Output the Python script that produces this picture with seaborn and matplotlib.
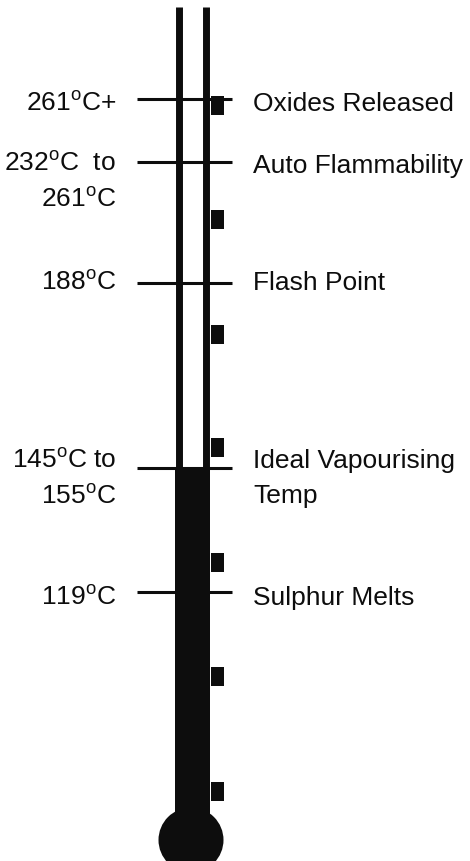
import matplotlib
matplotlib.use("Agg")
import matplotlib.pyplot as plt
from matplotlib import font_manager
from matplotlib.patches import Circle
import seaborn as sns

# temperature labels (left) and what happens (right), top to bottom
temps = ["261$^{\\rm o}$C+", "232$^{\\rm o}$C  to\n261$^{\\rm o}$C", "188$^{\\rm o}$C",
         "145$^{\\rm o}$C to\n155$^{\\rm o}$C", "119$^{\\rm o}$C"]
events = ["Oxides Released", "Auto Flammability", "Flash Point",
          "Ideal Vapourising\nTemp", "Sulphur Melts"]
# height of each marker line on the thermometer (measured down from the top)
levels = [99, 162, 283, 468, 592]
# mercury reaches the ideal vapourising temperature
mercury = 468
# small scale marks along the right side of the tube
scale_marks = [96, 210, 325, 438, 553, 667, 782]

sns.set_theme(style="white")
names = {f.name for f in font_manager.fontManager.ttflist}
narrow = "Liberation Sans Narrow" in names
family = "Liberation Sans Narrow" if narrow else "Liberation Sans"
plt.rcParams["font.family"] = [family, "DejaVu Sans"]
plt.rcParams["mathtext.fontset"] = "custom"
plt.rcParams["mathtext.rm"] = family
plt.rcParams["mathtext.it"] = family
plt.rcParams["mathtext.bf"] = family
fsize = 23 if narrow else 19

ink = "#0d0d0d"
fig = plt.figure(figsize=(4.7, 8.61), dpi=100)
ax = fig.add_axes([0, 0, 1, 1])
ax.set_xlim(0, 470)
ax.set_ylim(861, 0)
ax.axis("off")

# tube walls
ax.vlines([178.5, 205.5], 7, 830, color=ink, lw=5.0)
# mercury column and bulb
ax.bar(192, 840 - mercury, bottom=mercury, width=35, color=ink, linewidth=0)
ax.add_patch(Circle((191, 840), 32.5, color=ink, lw=0))
# scale marks
ax.bar([217] * len(scale_marks), 19, bottom=scale_marks, width=13, color=ink, linewidth=0)
# marker lines
ax.hlines(levels, 137, 232, color=ink, lw=2.2)

# baseline offset of the last text line from each marker line
left_offs = [12, 45, 7, 36, 13]
right_offs = [12, 11, 7, 35, 13]
for t, e, lv, lo, ro in zip(temps, events, levels, left_offs, right_offs):
    ax.text(116, lv + lo, t, ha="right", va="baseline", multialignment="right",
            fontsize=fsize, color=ink, linespacing=1.65)
    ax.text(253, lv + ro, e, ha="left", va="baseline", fontsize=fsize,
            color=ink, linespacing=1.6)

fig.savefig("out.png", dpi=100, facecolor="white")
